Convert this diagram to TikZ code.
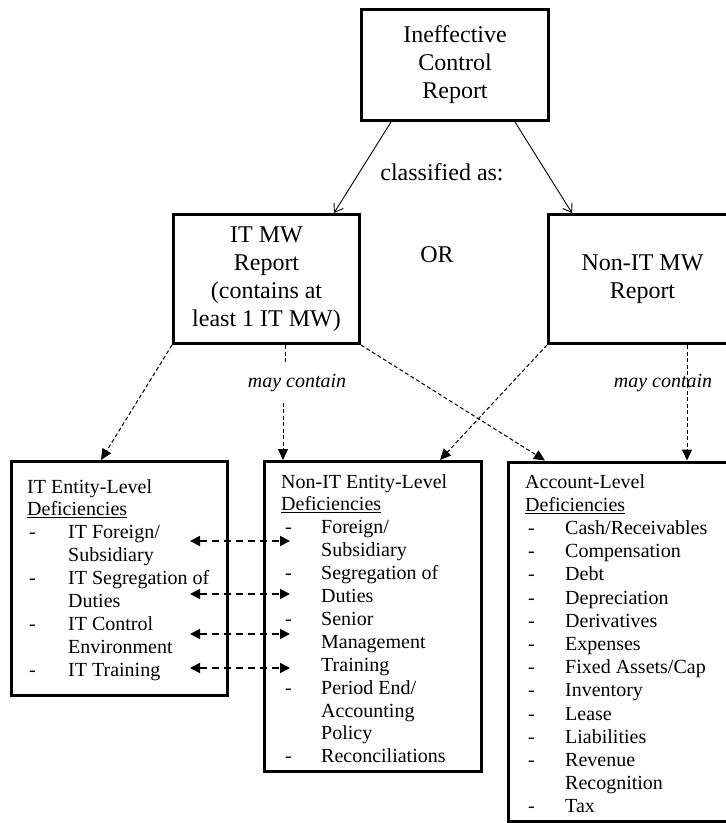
\documentclass[tikz,border=0pt]{standalone}
\usepackage{fontspec}
\setmainfont{Liberation Serif}
\usetikzlibrary{arrows.meta}
\begin{document}
\begin{tikzpicture}[x=1pt,y=-1pt,
  box/.style={draw, line width=3pt, inner sep=0pt, align=center},
  big/.style={font=\fontsize{24}{28}\selectfont},
  lt/.style={font=\fontsize{20}{23}\selectfont, anchor=base west, inner sep=0pt},
  solidarr/.style={line width=0.9pt, -{Straight Barb[length=8pt,width=11pt]}},
  dsh/.style={line width=1pt, dash pattern=on 4pt off 2.5pt},
  dasharr/.style={dsh, -{Triangle[length=11pt,width=10pt]}},
  dblarr/.style={line width=1.8pt, dash pattern=on 7pt off 5pt, {Triangle[length=10pt,width=10pt]}-{Triangle[length=10pt,width=10pt]}},
  lbl/.style={font=\fontsize{20}{23}\selectfont\itshape, inner xsep=2pt, inner ysep=11pt}
]
\useasboundingbox (0,0) rectangle (726,823);
\clip (0,0) rectangle (726,823);

% boxes
\node[box, big, minimum width=187pt, minimum height=111pt] (top) at (455,65) {Ineffective\\Control\\Report};
\node[box, big, minimum width=186pt, minimum height=129pt] (itmw) at (266.5,279) {IT MW\\Report\\(contains at\\least 1 IT MW)};
\node[box, big, minimum width=188pt, minimum height=129pt] (nonitmw) at (642.5,279) {Non-IT MW\\Report};
\node[box, minimum width=216pt, minimum height=234pt] (itent) at (119.5,578.5) {};
\node[box, minimum width=217pt, minimum height=310pt] (nonent) at (373,616.5) {};
\node[box, minimum width=221pt, minimum height=359pt] (acct) at (619,641.5) {};

% free labels
\node[big, inner sep=0pt] (cls) at (442,172) {classified as:};
\node[big, inner sep=0pt] (or) at (437,255) {OR};
\node[lbl] (mcl) at (297,383) {may contain};
\node[lbl] (mcr) at (663,383) {may contain};

% IT entity-level list
\node[lt] (ith0) at (27,493) {IT Entity-Level};
\node[lt] (ith1) at (27,493+22.9) {\underline{Deficiencies}};
\foreach \d/\t [count=\i from 2] in {1/{IT Foreign/},0/{Subsidiary},1/{IT Segregation of},0/{Duties},1/{IT Control},0/{Environment},1/{IT Training}} {
  \node[lt] (itl\i) at (68,493+\i*22.9) {\t};
  \ifnum\d=1 \node[lt] (itd\i) at (29,493+\i*22.9) {-};\fi
}

% Non-IT entity-level list
\node[lt] (nh0) at (281,488) {Non-IT Entity-Level};
\node[lt] (nh1) at (281,488+22.9) {\underline{Deficiencies}};
\foreach \d/\t [count=\i from 2] in {1/{Foreign/},0/{Subsidiary},1/{Segregation of},0/{Duties},1/{Senior},0/{Management},0/{Training},1/{Period End/},0/{Accounting},0/{Policy},1/{Reconciliations}} {
  \node[lt] (nl\i) at (321,488+\i*22.9) {\t};
  \ifnum\d=1 \node[lt] (nd\i) at (285,488+\i*22.9) {-};\fi
}

% Account-level list
\node[lt] (ah0) at (525,488) {Account-Level};
\node[lt] (ah1) at (525,488+23.2) {\underline{Deficiencies}};
\foreach \d/\t [count=\i from 2] in {1/{Cash/Receivables},1/{Compensation},1/{Debt},1/{Depreciation},1/{Derivatives},1/{Expenses},1/{Fixed Assets/Cap},1/{Inventory},1/{Lease},1/{Liabilities},1/{Revenue},0/{Recognition},1/{Tax}} {
  \node[lt] (al\i) at (565,488+\i*23.2) {\t};
  \ifnum\d=1 \node[lt] (ad\i) at (528,488+\i*23.2) {-};\fi
}

% solid arrows
\draw[solidarr] ([xshift=31pt]top.south west) -- ([xshift=-27pt]itmw.north east);
\draw[solidarr] ([xshift=-35pt]top.south east) -- ([xshift=25pt]nonitmw.north west);

% dashed arrows
\draw[dasharr] (itmw.south west) -- ([xshift=91pt]itent.north west);
\draw[dsh] ([xshift=-76pt]itmw.south east) -- ([xshift=-76pt]itmw.south east |- mcl.north);
\draw[dasharr] ([xshift=20pt]nonent.north west |- mcl.south) -- ([xshift=20pt]nonent.north west);
\draw[dasharr] (itmw.south east) -- ([xshift=38pt]acct.north west);
\draw[dasharr] (nonitmw.south west) -- ([xshift=-43pt]nonent.north east);
\draw[dasharr] ([xshift=140pt]nonitmw.south west) -- ([xshift=180pt]acct.north west);

% double arrows between entity-level lists
\coordinate (a1) at (190,541); \coordinate (b1) at (290,541);
\coordinate (a2) at (190,594); \coordinate (b2) at (290,594);
\coordinate (a3) at (190,634); \coordinate (b3) at (290,634);
\coordinate (a4) at (190,668); \coordinate (b4) at (290,668);
\draw[dblarr] (a1) -- (b1);
\draw[dblarr] (a2) -- (b2);
\draw[dblarr] (a3) -- (b3);
\draw[dblarr] (a4) -- (b4);
\end{tikzpicture}
\end{document}
